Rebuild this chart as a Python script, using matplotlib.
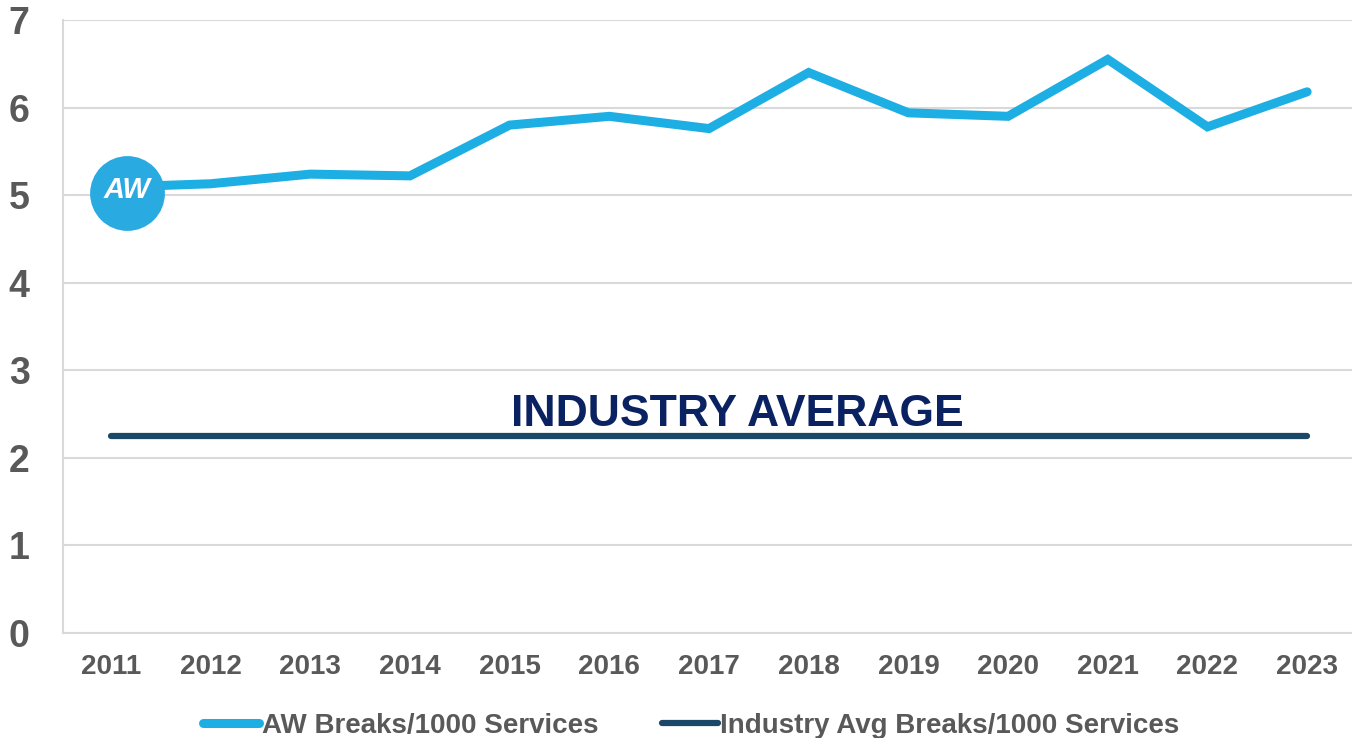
import matplotlib
matplotlib.use("Agg")
import matplotlib.pyplot as plt
from matplotlib.lines import Line2D

plt.rcParams['font.family'] = ['Liberation Sans', 'DejaVu Sans']

years = ['2011', '2012', '2013', '2014', '2015', '2016', '2017', '2018',
         '2019', '2020', '2021', '2022', '2023']
aw_breaks = [5.09, 5.13, 5.24, 5.22, 5.80, 5.90, 5.76, 6.40, 5.94, 5.90, 6.55, 5.78, 6.18]
industry_avg = [2.25] * len(years)
y_ticks = [0, 1, 2, 3, 4, 5, 6, 7]

AW_COLOR = '#1DAEE4'
IND_COLOR = '#1A4866'
TXT_GREY = '#595959'
GRID = '#D9D9D9'

W, H = 1352, 738
fig = plt.figure(figsize=(W / 100, H / 100), dpi=100)
ax = fig.add_axes([63 / W, 1 - 633 / H, (W - 63) / W, (633 - 20) / H])

x = list(range(len(years)))
ax.plot(x, industry_avg, color=IND_COLOR, lw=4.5, solid_capstyle='round', zorder=3)
ax.plot(x, aw_breaks, color=AW_COLOR, lw=6.5, solid_capstyle='round',
        solid_joinstyle='miter', zorder=4)

ax.set_xlim(-0.48, 12.45)
ax.set_ylim(0, 7)
ax.set_yticks(y_ticks)
ax.set_xticks(x)
ax.set_xticklabels(years)
ax.yaxis.grid(True, color=GRID, lw=1.5)
ax.set_axisbelow(True)
for s in ['top', 'right']:
    ax.spines[s].set_visible(False)
for s in ['left', 'bottom']:
    ax.spines[s].set_color(GRID)
    ax.spines[s].set_linewidth(1.5)
ax.tick_params(axis='both', length=0, colors=TXT_GREY)
ax.tick_params(axis='y', labelsize=27, pad=24)
ax.tick_params(axis='x', labelsize=20, pad=15)
for lab in ax.get_xticklabels() + ax.get_yticklabels():
    lab.set_fontweight('bold')

ax.text(0.523, 2.50 / 7, 'INDUSTRY AVERAGE', transform=ax.transAxes,
        ha='center', va='center', fontsize=32, fontweight='bold', color='#0B2262', zorder=5)

# logo
lx, ly = (127 - 63) / (W - 63), (633 - 193) / (633 - 20)
ax.scatter([lx], [ly], s=2900, color='#29ABE2', transform=ax.transAxes, zorder=6,
           clip_on=False, linewidths=0)
ax.text(lx, ly + 0.005, 'AW', transform=ax.transAxes, ha='center', va='center',
        fontsize=21, fontweight='bold', fontstyle='italic', color='white', zorder=7)

handles = [Line2D([], [], color=AW_COLOR, lw=6.5, solid_capstyle='round'),
           Line2D([], [], color=IND_COLOR, lw=4.5, solid_capstyle='round')]
leg = fig.legend(handles, ['AW Breaks/1000 Services', 'Industry Avg Breaks/1000 Services'],
                 loc='center', bbox_to_anchor=(0.5115, 1 - 726 / H), ncol=2, frameon=False,
                 prop={'weight': 'bold', 'size': 20},
                 handlelength=2.0, handletextpad=0.1, columnspacing=2.3, borderpad=0)
for t in leg.get_texts():
    t.set_color(TXT_GREY)

fig.savefig('out.png', dpi=100)
